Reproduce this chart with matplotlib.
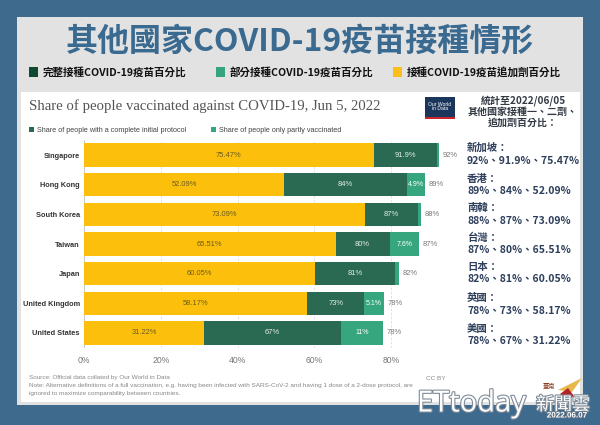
import matplotlib
matplotlib.use("Agg")
import matplotlib.pyplot as plt
from matplotlib.patches import Rectangle, Polygon
import matplotlib.patheffects as pe
import numpy as np

# ---------------- data ----------------
countries = ["Singapore", "Hong Kong", "South Korea", "Taiwan", "Japan",
             "United Kingdom", "United States"]
complete = [91.9, 84.0, 87.0, 79.6, 81.0, 73.0, 67.0]
complete_labels = ["91.9%", "84%", "87%", "80%", "81%", "73%", "67%"]
partly = [0.5, 4.9, 0.9, 7.6, 1.0, 5.1, 11.0]
partly_labels = ["", "4.9%", "", "7.6%", "", "5.1%", "11%"]
booster = [75.47, 52.09, 73.09, 65.51, 60.05, 58.17, 31.22]
xticks = [0, 20, 40, 60, 80]

cn_names = ["新加坡：", "香港：", "南韓：", "台灣：", "日本：", "英國：", "美國："]
cn_values = ["92%、91.9%、75.47%", "89%、84%、52.09%", "88%、87%、73.09%",
             "87%、80%、65.51%", "82%、81%、60.05%", "78%、73%、58.17%",
             "78%、67%、31.22%"]

title_cn = "其他國家COVID-19疫苗接種情形"
legend_cn = ["完整接種COVID-19疫苗百分比", "部分接種COVID-19疫苗百分比",
             "接種COVID-19疫苗追加劑百分比"]
chart_title = "Share of people vaccinated against COVID-19, Jun 5, 2022"
legend_en = ["Share of people with a complete initial protocol",
             "Share of people only partly vaccinated"]

# ---------------- styles ----------------
BLUE_BG = "#3e6a8e"
TITLE_BLUE = "#3b6a90"
GRAY_PANEL = "#e2e2e2"
YELLOW = "#fbbf0c"
DKGREEN = "#2a6a52"
MDGREEN = "#36a67e"
LEG_DK = "#0f4a30"
LEG_MD = "#35a37c"
LEG_YL = "#fbbf1a"
TXT_NAVY = "#2e3f5c"

CJK = ["Noto Sans CJK TC", "DejaVu Sans"]
SANS = ["Liberation Sans", "DejaVu Sans"]
SERIF = ["Liberation Serif", "DejaVu Serif"]

W, H = 600, 425
fig = plt.figure(figsize=(W / 100, H / 100), dpi=100)
fig.patch.set_facecolor(BLUE_BG)


def fx(x):
    return x / W


def fy(y):
    return 1 - y / H


def rect(x0, y0, x1, y1, color, z=0, **kw):
    fig.patches.append(Rectangle((fx(x0), fy(y1)), fx(x1) - fx(x0),
                                 fy(y0) - fy(y1), transform=fig.transFigure,
                                 facecolor=color, edgecolor="none", zorder=z, **kw))


def text(x, y, s, **kw):
    fig.text(fx(x), fy(y), s, **kw)


# panels
rect(17, 17, 583, 405, GRAY_PANEL, z=0)
rect(21, 92, 580, 402, "white", z=0.5)

# main title
text(300, 42, title_cn, ha="center", va="center", fontsize=23,
     fontweight="bold", color=TITLE_BLUE, family=CJK)

# top legend
leg_x = [29, 216, 393]
for lx, lab, col in zip(leg_x, legend_cn, [LEG_DK, LEG_MD, LEG_YL]):
    rect(lx, 67, lx + 9, 77, col, z=2)
    text(lx + 14, 72.5, lab, ha="left", va="center", fontsize=7.6,
         fontweight="bold", color="#111111", family=CJK)

# chart title
text(29, 106, chart_title, ha="left", va="center", fontsize=10.6,
     color="#555555", family=SERIF)

# OWID logo
rect(425, 97, 455, 118, "#1b365d", z=2)
rect(425, 116.5, 455, 118.5, "#c8262c", z=3)
text(440, 106.5, "Our World\nin Data", ha="center", va="center", fontsize=3.6,
     color="white", family=SANS, linespacing=1.0, zorder=4)

# chart legend
for lx, lab, col in zip([29, 211], legend_en, [DKGREEN, MDGREEN]):
    rect(lx, 127, lx + 5, 132, col, z=2)
    text(lx + 8, 130, lab, ha="left", va="center", fontsize=5.2,
         color="#444444", family=SANS)

# ---------------- bars ----------------
ax = fig.add_axes([fx(84), fy(347.8), fx(452.6) - fx(84), (347.8 - 140.2) / H])
ax.set_zorder(5)
ax.set_facecolor("none")
y = np.arange(len(countries))
bh = 0.78
comp = np.array(complete)
part = np.array(partly)
boost = np.array(booster)

ax.barh(y, comp, height=bh, color=DKGREEN, zorder=2)
ax.barh(y, part, left=comp, height=bh, color=MDGREEN, zorder=2)
ax.barh(y, boost, height=bh, color=YELLOW, zorder=3)

for i in range(len(countries)):
    ax.text(boost[i] / 2, y[i], f"{booster[i]:.2f}%", ha="center", va="center",
            fontsize=5.4, color="#6a5a20", family=SANS, zorder=5)
    ax.text((boost[i] + comp[i]) / 2, y[i], complete_labels[i], ha="center",
            va="center", fontsize=5.4, color="#e4eee8", family=SANS, zorder=5)
    if partly_labels[i]:
        ax.text(comp[i] + part[i] / 2, y[i], partly_labels[i], ha="center",
                va="center", fontsize=5.0, color="white", family=SANS, zorder=5)
    ax.text(comp[i] + part[i] + 0.9, y[i], f"{round(comp[i] + part[i])}%",
            ha="left", va="center", fontsize=5.4, color="#777777",
            family=SANS, zorder=5)

ax.set_xlim(0, 96)
ax.set_ylim(len(countries) - 0.5, -0.5)
ax.set_yticks(y)
ax.set_yticklabels(countries, fontsize=5.3, fontweight="bold", color="#333333",
                   family=SANS)
ax.set_xticks(xticks)
ax.set_xticklabels([f"{t}%" for t in xticks], fontsize=6.2, color="#777777",
                   family=SANS)
ax.tick_params(axis="y", length=0, pad=3)
ax.tick_params(axis="x", length=0, pad=6)
for s in ax.spines.values():
    s.set_visible(False)
for t in xticks[1:]:
    ax.axvline(t, color="#dddddd", lw=0.6, ls=(0, (3, 2)), zorder=1)
ax.axvline(0, color="#bbbbbb", lw=0.6, zorder=1)

# sources
text(29, 378, "Source: Official data collated by Our World in Data",
     ha="left", va="center", fontsize=4.6, color="#888888", family=SANS)
text(29, 386, "Note: Alternative definitions of a full vaccination, e.g. having been "
     "infected with SARS-CoV-2 and having 1 dose of a 2-dose protocol, are",
     ha="left", va="center", fontsize=4.6, color="#888888", family=SANS)
text(29, 393.5, "ignored to maximize comparability between countries.",
     ha="left", va="center", fontsize=4.6, color="#888888", family=SANS)
text(436, 378, "CC BY", ha="center", va="center", fontsize=4.6,
     color="#888888", family=SANS)

# right info panel
for hy, hs in zip([101, 112, 123], ["統計至2022/06/05", "其他國家接種一、二劑、",
                                     "追加劑百分比："]):
    text(523, hy, hs, ha="center", va="center", fontsize=7.2,
         fontweight="bold", color="#333a44", family=CJK)
name_y = [148, 179, 208, 238, 267, 298, 329]
for ny, nm, vv in zip(name_y, cn_names, cn_values):
    text(467, ny, nm, ha="left", va="center", fontsize=7.5, fontweight="bold",
         color=TXT_NAVY, family=CJK)
    text(467, ny + 12.5, vv, ha="left", va="center", fontsize=7.5,
         fontweight="bold", color=TXT_NAVY, family=CJK)

# watermark
stroke = [pe.withStroke(linewidth=1.6, foreground="#7f8c99")]
text(417, 404, "ETtoday", ha="left", va="center", fontsize=21, color="white",
     family=["Open Sans", "DejaVu Sans"], zorder=6, path_effects=stroke)
text(536, 405, "新聞雲", ha="left", va="center", fontsize=13, color="white",
     family=CJK, zorder=6, path_effects=stroke)
text(567, 416, "2022.06.07", ha="center", va="center", fontsize=5.8,
     color="white", fontweight="bold", family=SANS, zorder=7,
     path_effects=[pe.withStroke(linewidth=1.2, foreground="#5f7285")])
text(549, 386, "臺南", ha="center", va="center", fontsize=4.5, color="#8a3a1a",
     family=CJK, zorder=7)
# small emblem: golden wings over red
fig.patches.append(Polygon([[fx(558), fy(390)], [fx(582), fy(378)],
                            [fx(572), fy(392)]], closed=True,
                           transform=fig.transFigure, facecolor="#e8b84a",
                           edgecolor="none", zorder=6))
fig.patches.append(Polygon([[fx(560), fy(394)], [fx(568), fy(388)],
                            [fx(574), fy(396)], [fx(566), fy(401)]],
                           closed=True, transform=fig.transFigure,
                           facecolor="#b3242a", edgecolor="none", zorder=6))

fig.savefig("out.png", dpi=100, facecolor=fig.get_facecolor())
